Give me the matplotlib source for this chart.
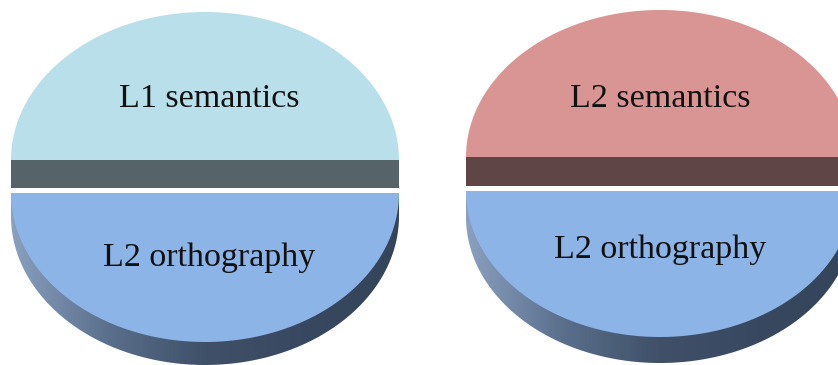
import numpy as np
import matplotlib.pyplot as plt
from matplotlib.patches import Polygon
from matplotlib.colors import LinearSegmentedColormap

# two disks, each split in two halves
top_labels = ["L1 semantics", "L2 semantics"]
bottom_labels = ["L2 orthography", "L2 orthography"]
shares = [50, 50]  # top half / bottom half, percent

top_colors = ["#b9e0ea", "#d99594"]
band_colors = ["#566469", "#5f4545"]
bottom_color = "#8db4e7"

# geometry in pixels (x centre, top centre y, bottom centre y)
cx = [205, 660]
top_cy = [160, 157]
bot_cy = [193, 191]
rx = 194
top_ry = [148, 147]
bot_ry = [149, 146]
band_h = [28, 29]
side_h = [23, 26]
# text baselines
top_text_y = [107, 107]
bot_text_y = [266, 258]
text_x = [209, 660]

side_cmap = LinearSegmentedColormap.from_list(
    "side", ["#8aa0bf", "#5a6f8c", "#3f5068", "#384860", "#34445a"])

fig = plt.figure(figsize=(8.38, 3.65), dpi=100)
ax = fig.add_axes([0, 0, 1, 1])
ax.set_xlim(0, 838)
ax.set_ylim(365, 0)
ax.axis("off")


def half_ellipse(x0, y0, a, b, t0, t1, n=200):
    t = np.linspace(t0, t1, n)
    return np.column_stack([x0 + a * np.cos(t), y0 - b * np.sin(t)])


for i in range(2):
    split = np.pi * 2 * shares[0] / 100  # top half angle span
    # top half: band (side) then face
    band = Polygon([[cx[i] - rx, top_cy[i]], [cx[i] + rx, top_cy[i]],
                    [cx[i] + rx, top_cy[i] + band_h[i]],
                    [cx[i] - rx, top_cy[i] + band_h[i]]],
                   closed=True, facecolor=band_colors[i], edgecolor="none")
    ax.add_patch(band)
    face = Polygon(half_ellipse(cx[i], top_cy[i], rx, top_ry[i], 0, split),
                   closed=True, facecolor=top_colors[i], edgecolor="none")
    ax.add_patch(face)

    # bottom half: gradient side then face
    side_pts = half_ellipse(cx[i], bot_cy[i] + side_h[i], rx, bot_ry[i],
                            split, 2 * np.pi)
    side_pts = np.vstack([[[cx[i] - rx, bot_cy[i]]], side_pts,
                          [[cx[i] + rx, bot_cy[i]]]])
    side = Polygon(side_pts, closed=True, facecolor="none", edgecolor="none")
    ax.add_patch(side)
    grad = np.linspace(0, 1, 256).reshape(1, -1)
    im = ax.imshow(grad, cmap=side_cmap, aspect="auto",
                   extent=[cx[i] - rx, cx[i] + rx,
                           bot_cy[i] + bot_ry[i] + side_h[i], bot_cy[i]],
                   zorder=1)
    im.set_clip_path(side)
    face2 = Polygon(half_ellipse(cx[i], bot_cy[i], rx, bot_ry[i],
                                 split, 2 * np.pi),
                    closed=True, facecolor=bottom_color, edgecolor="none",
                    zorder=2)
    ax.add_patch(face2)

    ax.text(text_x[i], top_text_y[i], top_labels[i], ha="center",
            va="baseline", fontsize=24.5, family="Liberation Serif",
            color="#111111", zorder=3)
    ax.text(text_x[i], bot_text_y[i], bottom_labels[i], ha="center",
            va="baseline", fontsize=24.5, family="Liberation Serif",
            color="#111111", zorder=3)

ax.set_xlim(0, 838)
ax.set_ylim(365, 0)
fig.savefig("out.png", dpi=100)
